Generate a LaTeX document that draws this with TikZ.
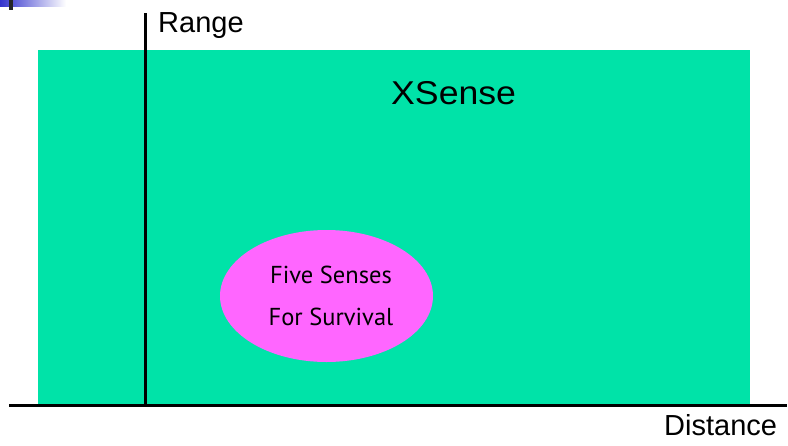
\documentclass[tikz,border=0pt]{standalone}
\usepackage{fontspec}
\setmainfont{Liberation Sans}
\newfontfamily\tahomafont{PT Sans}
\definecolor{xgreen}{HTML}{00E3A8}
\definecolor{xpink}{HTML}{FF66FF}
\definecolor{xblue}{HTML}{3333CC}
\begin{document}
\begin{tikzpicture}[x=1pt,y=-1pt,
  lbl/.style={inner sep=0pt,anchor=base west,font=\fontsize{29}{31}\selectfont},
  axis/.style={line width=3pt,black},
  ell/.style={inner sep=0pt,anchor=base,font=\tahomafont\fontsize{24.5}{26}\selectfont}]
\useasboundingbox (0,0) rectangle (788,445);
% slide decoration
\shade[left color=xblue,right color=white] (0,0) rectangle (66,6);
\fill[black!85] (9,0) rectangle (13,10);
% area
\fill[xgreen] (38,50) rectangle (750,405);
\node[lbl,font=\fontsize{33}{35}\selectfont,xscale=1.08] (xs) at (391,104) {XSense};
% ellipse
\fill[xpink] (326.5,296) ellipse [x radius=106.5,y radius=66];
\node[ell] (five) at (331,283) {Five Senses};
\node[ell] (surv) at (331,325) {For Survival};
% axes
\coordinate (ytop) at (145,13);
\coordinate (origin) at (145,405);
\coordinate (xl) at (9,405);
\coordinate (xr) at (787,405);
\draw[axis] (origin) -- (ytop);
\draw[axis] (xl) -- (xr);
\node[lbl] (range) at (158,32) {Range};
\node[lbl] (dist) at (664,435) {Distance};
\end{tikzpicture}
\end{document}
